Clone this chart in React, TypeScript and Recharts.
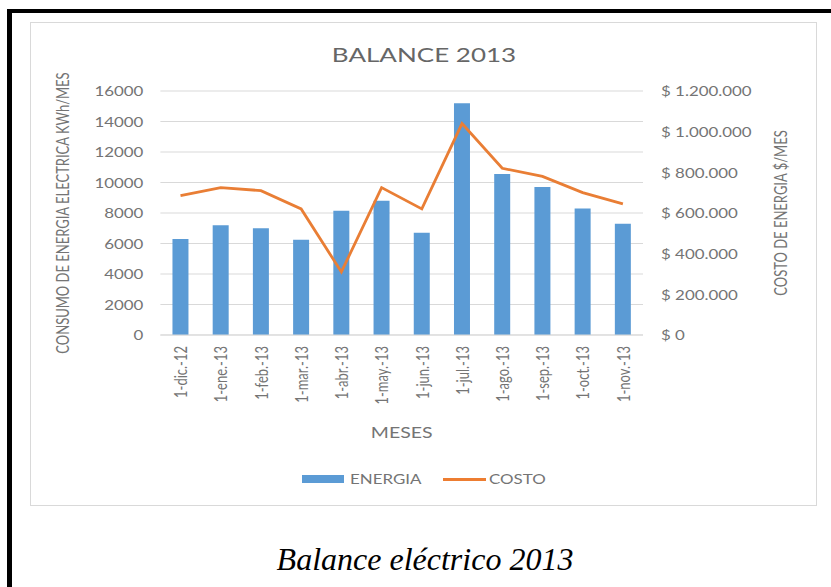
import React from 'react';
import { ComposedChart, Bar, Line, XAxis, YAxis, CartesianGrid, Legend } from 'recharts';

const months = ['1-dic.-12', '1-ene.-13', '1-feb.-13', '1-mar.-13', '1-abr.-13', '1-may.-13', '1-jun.-13', '1-jul.-13', '1-ago.-13', '1-sep.-13', '1-oct.-13', '1-nov.-13'];
const energia = [6300, 7200, 7000, 6250, 8150, 8800, 6700, 15200, 10550, 9700, 8300, 7300];
const costo = [685000, 725000, 710000, 620000, 310000, 725000, 620000, 1040000, 820000, 780000, 700000, 645000];
const energiaTicks = [0, 2000, 4000, 6000, 8000, 10000, 12000, 14000, 16000];
const costoTicks = [0, 200000, 400000, 600000, 800000, 1000000, 1200000];

const data = months.map((m, i) => ({ mes: m, ENERGIA: energia[i], COSTO: costo[i] }));

const FONT = "Lato, 'Open Sans', sans-serif";
const TXT = '#747474';
const SX = 1.3;

const fmtPeso = (v: number) => '$ ' + String(v).replace(/\B(?=(\d{3})+(?!\d))/g, '.');

const LeftTick = (props: any) => {
  const { x, y, payload } = props;
  return (
    <text transform={`translate(${x},${y}) scale(${SX},1)`} textAnchor="end" dominantBaseline="central" fill={TXT} fontSize={13} fontFamily={FONT}>
      {payload.value}
    </text>
  );
};

const RightTick = (props: any) => {
  const { x, y, payload } = props;
  return (
    <text transform={`translate(${x},${y}) scale(${SX},1)`} textAnchor="start" dominantBaseline="central" fill={TXT} fontSize={13} fontFamily={FONT}>
      {fmtPeso(payload.value)}
    </text>
  );
};

const BottomTick = (props: any) => {
  const { x, y, payload } = props;
  return (
    <text transform={`translate(${x},${y}) scale(${SX},1) rotate(-90)`} textAnchor="end" dominantBaseline="central" fill={TXT} fontSize={13} fontFamily={FONT}>
      {payload.value}
    </text>
  );
};

const LeftLabel = (props: any) => {
  const vb = props.viewBox;
  const cx = vb.x;
  const cy = vb.y + vb.height / 2;
  return (
    <text transform={`translate(${cx},${cy}) scale(${SX},1) rotate(-90)`} textAnchor="middle" dominantBaseline="central" fill={TXT} fontSize={13} fontFamily={FONT}>
      CONSUMO DE ENERGIA ELECTRICA KWh/MES
    </text>
  );
};

const RightLabel = (props: any) => {
  const vb = props.viewBox;
  const cx = vb.x + vb.width;
  const cy = vb.y + vb.height / 2;
  return (
    <text transform={`translate(${cx},${cy}) scale(${SX},1) rotate(-90)`} textAnchor="middle" dominantBaseline="central" fill={TXT} fontSize={13} fontFamily={FONT}>
      COSTO DE ENERGIA $/MES
    </text>
  );
};

const BottomLabel = (props: any) => {
  const vb = props.viewBox;
  const cx = vb.x + vb.width / 2;
  const by = vb.y + vb.height;
  return (
    <text transform={`translate(${cx},${by}) scale(${SX},1)`} textAnchor="middle" fill={TXT} fontSize={15} fontFamily={FONT}>
      MESES
    </text>
  );
};

const LegendContent = () => (
  <div style={{ display: 'flex', justifyContent: 'center', alignItems: 'center', fontFamily: FONT, fontSize: 13, color: TXT, height: 18 }}>
    <span style={{ display: 'inline-block', width: 42, height: 8, background: '#5B9BD5' }} />
    <span style={{ display: 'inline-block', width: 71, marginLeft: 6, transform: `scaleX(${SX})`, transformOrigin: 'left center', whiteSpace: 'nowrap' }}>ENERGIA</span>
    <span style={{ display: 'inline-block', width: 43, height: 3, background: '#ED7D31', marginLeft: 22 }} />
    <span style={{ display: 'inline-block', width: 56, marginLeft: 3, transform: `scaleX(${SX})`, transformOrigin: 'left center', whiteSpace: 'nowrap' }}>COSTO</span>
  </div>
);

export default function App() {
  return (
    <div style={{ position: 'absolute', left: 0, top: 0, width: 831, height: 587, background: '#fff', overflow: 'hidden' }}>
      <div style={{ position: 'absolute', left: 7, top: 9, width: 824, height: 578, borderLeft: '5px solid #000', borderTop: '4px solid #000', boxSizing: 'border-box' }} />
      <div style={{ position: 'absolute', left: 30, top: 22, width: 785, height: 482, border: '1px solid #d9d9d9', background: '#fff' }}>
        <ComposedChart width={785} height={482} data={data} margin={{ top: 68, right: 36, bottom: 67, left: 31 }} barCategoryGap="30%">
          <CartesianGrid yAxisId="left" vertical={false} stroke="#d9d9d9" />
          <XAxis dataKey="mes" height={103} tickLine={false} tickSize={0} tickMargin={11} axisLine={{ stroke: '#d9d9d9' }} tick={<BottomTick />} interval={0} label={<BottomLabel />} />
          <YAxis yAxisId="left" orientation="left" width={98.4} domain={[0, 16000]} ticks={energiaTicks} tickLine={false} tickSize={0} tickMargin={17} axisLine={false} tick={<LeftTick />} interval={0} label={<LeftLabel />} />
          <YAxis yAxisId="right" orientation="right" width={137} domain={[0, 1200000]} ticks={costoTicks} tickLine={false} tickSize={0} tickMargin={18} axisLine={false} tick={<RightTick />} interval={0} label={<RightLabel />} />
          <Bar yAxisId="left" dataKey="ENERGIA" fill="#5B9BD5" isAnimationActive={false} />
          <Line yAxisId="right" dataKey="COSTO" type="linear" stroke="#E97E35" strokeWidth={2.8} dot={false} isAnimationActive={false} />
          <Legend verticalAlign="middle" align="center" layout="horizontal" content={<LegendContent />} wrapperStyle={{ top: 447, left: 0, width: 785 }} />
        </ComposedChart>
      </div>
      <svg width={831} height={587} style={{ position: 'absolute', left: 0, top: 0, pointerEvents: 'none' }}>
        <text transform={`translate(424,62) scale(${SX},1)`} textAnchor="middle" fill="#666666" fontSize={20} fontFamily={FONT}>
          BALANCE 2013
        </text>
        <text x={425} y={570} textAnchor="middle" fill="#000" fontSize={32} fontStyle="italic" fontFamily="'Liberation Serif', 'DejaVu Serif', serif">
          Balance eléctrico 2013
        </text>
      </svg>
    </div>
  );
}
